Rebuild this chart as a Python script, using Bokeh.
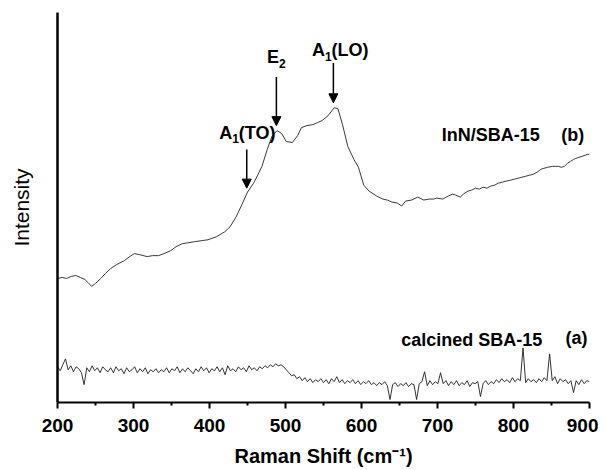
import numpy as np
from bokeh.plotting import figure
from bokeh.models import Arrow, NormalHead, Label, FixedTicker
from bokeh.embed import file_html
from bokeh.resources import INLINE

# ---------------- data ----------------
# (b) InN/SBA-15 spectrum: Raman shift (cm^-1) and intensity (arb. units)
b_shift = [200, 206, 212, 218, 224, 230, 236, 240, 245, 250, 257, 263, 270, 278,
           288, 295, 301, 308, 318, 325, 333, 340, 349, 356, 364, 372, 380, 389,
           398, 409, 420, 427, 435, 443, 450, 458, 464, 469, 476, 482, 489, 495,
           501, 509, 516, 521, 528, 536, 542, 548, 556, 564, 569, 575, 582, 590,
           596, 603, 610, 620, 628, 634, 640, 647, 653, 658, 666, 674, 682, 689,
           695, 699, 707, 714, 720, 724, 730, 734, 740, 745, 750, 755, 760, 765,
           770, 775, 780, 785, 790, 796, 801, 806, 811, 816, 821, 826, 831, 836,
           840, 845, 851, 855, 859, 863, 867, 871, 875, 879, 882, 886, 890, 894,
           897, 900]
b_int = [125, 126, 125, 127, 128, 126, 124, 121, 117, 120, 125, 130, 135, 139,
         143, 147, 150, 149, 147, 148, 148, 150, 153, 157, 160, 161, 162, 163,
         164, 167, 172, 177, 187, 200, 212, 221, 230, 238, 255, 268, 274, 271,
         263, 262, 269, 277, 279, 280, 282, 284, 289, 297, 296, 280, 258, 245,
         237, 219, 213, 208, 205, 204, 202, 201, 198, 203, 204, 207, 204, 205,
         205, 206, 205, 208, 210, 209, 207, 210, 213, 214, 216, 215, 217, 216,
         218, 219, 221, 222, 223, 224, 225, 226, 227, 228, 229, 230, 232, 235,
         236, 237, 238, 238, 238, 237, 238, 241, 243, 245, 246, 247, 248, 249,
         250, 250]

# (a) calcined SBA-15 spectrum, sampled every 3.5 cm^-1 from 200 to 900
a_int = [36, 32, 38, 44, 33, 37, 31, 36, 34, 30, 18, 35, 31, 37, 32, 35, 30, 36, 33, 31,
         35, 30, 36, 32, 34, 29, 35, 31, 33, 36, 30, 34, 31, 35, 29, 33, 31, 34, 30, 33,
         31, 35, 30, 34, 32, 36, 30, 34, 31, 35, 32, 29, 34, 31, 36, 32, 35, 30, 34, 32,
         36, 31, 35, 28, 37, 32, 34, 31, 36, 33, 35, 31, 37, 33, 35, 32, 36, 34, 37, 35,
         38, 36, 39, 37, 38, 36, 33, 30, 27, 28, 24, 26, 22, 25, 21, 24, 20, 23, 21, 24,
         20, 23, 19, 24, 21, 26, 20, 23, 19, 22, 20, 23, 19, 22, 18, 21, 19, 22, 18, 20,
         17, 20, 18, 21, 17, 3, 18, 20, 16, 19, 17, 20, 16, 19, 18, 3, 19, 21, 31, 17,
         22, 18, 21, 19, 30, 19, 22, 17, 21, 18, 22, 17, 20, 18, 22, 16, 20, 19, 21, 6,
         19, 22, 18, 21, 19, 23, 20, 24, 21, 23, 20, 25, 21, 24, 22, 55, 20, 24, 21, 23,
         20, 24, 21, 25, 22, 49, 22, 26, 19, 24, 21, 23, 19, 22, 10, 22, 18, 23, 19, 22,
         21]
a_shift = np.linspace(200, 900, len(a_int))

x_ticks = [200, 300, 400, 500, 600, 700, 800, 900]
x_minor = [250, 350, 450, 550, 650, 750, 850]

# peak annotations: (main, subscript, rest, label x, label y)
mode_labels = [("A", "1", "(TO)", 450, 272),
               ("E", "2", "", 488, 348),
               ("A", "1", "(LO)", 572, 355)]
# arrows: (x, y_start, y_end)
mode_arrows = [(449, 255, 216), (488, 328, 279), (563, 342, 302)]

series_labels = [("InN/SBA-15", 770, 270), ("(b)", 878, 270),
                 ("calcined SBA-15", 745, 63), ("(a)", 883, 65)]

# ---------------- figure ----------------
FONT = "Liberation Sans"
p = figure(width=598, height=469, x_range=(200, 900), y_range=(0, 393),
           output_backend="svg", toolbar_location=None,
           min_border_left=57, min_border_right=9, min_border_top=12,
           min_border_bottom=64)
p.outline_line_color = None
p.grid.visible = False
p.background_fill_color = "white"

p.line(b_shift, b_int, line_color="#3a3a3a", line_width=1)
p.line(a_shift, a_int, line_color="#1e1e1e", line_width=0.9)

# x axis
xa = p.xaxis[0]
xa.ticker = FixedTicker(ticks=x_ticks, minor_ticks=x_minor)
xa.axis_line_width = 2
xa.major_tick_line_width = 2
xa.major_tick_out = 6
xa.major_tick_in = 0
xa.minor_tick_line_width = 2
xa.minor_tick_out = 3
xa.minor_tick_in = 0
xa.major_label_text_font = FONT
xa.major_label_text_font_style = "bold"
xa.major_label_text_font_size = "19px"
xa.major_label_text_color = "black"
xa.major_label_standoff = 10
xa.axis_label = "Raman Shift (cm\u207b\u00b9)"
xa.axis_label_text_font = FONT
xa.axis_label_text_font_style = "bold"
xa.axis_label_text_font_size = "20px"
xa.axis_label_text_color = "black"
xa.axis_label_standoff = 10

# y axis
ya = p.yaxis[0]
ya.ticker = FixedTicker(ticks=[])
ya.axis_line_width = 2.5
ya.major_tick_out = 0
ya.major_tick_in = 0
ya.minor_tick_out = 0
ya.minor_tick_in = 0
ya.major_label_text_font_size = "0px"
ya.axis_label = "Intensity"
ya.axis_label_text_font = FONT
ya.axis_label_text_font_style = "normal"
ya.axis_label_text_font_size = "21px"
ya.axis_label_text_color = "black"
ya.axis_label_standoff = 25

# approx bold Arial widths (em)
W = {"A": .722, "E": .667, "(": .333, ")": .333, "T": .611, "O": .778,
     "L": .611, "1": .556, "2": .556}


def wid(s, size):
    return sum(W.get(c, .6) for c in s) * size


MAIN, SUB = 18, 12
for main, sub, rest, lx, ly in mode_labels:
    total = wid(main, MAIN) + wid(sub, SUB) + wid(rest, MAIN)
    off = -total / 2
    p.add_layout(Label(x=lx, y=ly, x_offset=off, text=main, text_font=FONT,
                       text_font_style="bold", text_font_size=f"{MAIN}px",
                       text_baseline="middle", text_align="left",
                       text_color="black"))
    off += wid(main, MAIN)
    p.add_layout(Label(x=lx, y=ly, x_offset=off, y_offset=-6, text=sub,
                       text_font=FONT, text_font_style="bold",
                       text_font_size=f"{SUB}px", text_baseline="middle",
                       text_align="left", text_color="black"))
    off += wid(sub, SUB)
    if rest:
        p.add_layout(Label(x=lx, y=ly, x_offset=off, text=rest, text_font=FONT,
                           text_font_style="bold", text_font_size=f"{MAIN}px",
                           text_baseline="middle", text_align="left",
                           text_color="black"))

for ax, y0, y1 in mode_arrows:
    p.add_layout(Arrow(end=NormalHead(size=9, fill_color="black",
                                      line_color="black", line_width=1),
                       x_start=ax, y_start=y0, x_end=ax, y_end=y1,
                       line_color="black", line_width=1.5))

for txt, lx, ly in series_labels:
    p.add_layout(Label(x=lx, y=ly, text=txt, text_font=FONT,
                       text_font_style="bold", text_font_size="18px",
                       text_baseline="middle", text_align="center",
                       text_color="black"))

open("out.html", "w").write(file_html(p, INLINE))
